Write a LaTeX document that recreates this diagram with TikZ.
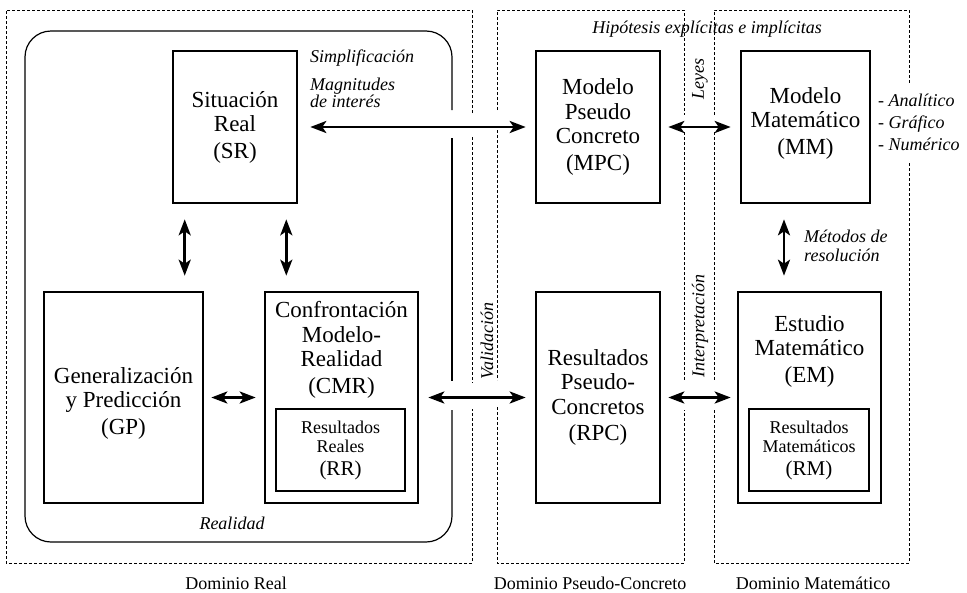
\documentclass[tikz,border=0pt]{standalone}
\usepackage{fontspec}
\setmainfont{Liberation Serif}
\usetikzlibrary{arrows.meta,calc}
\begin{document}
\begin{tikzpicture}[x=1pt,y=-1pt,
  box/.style={draw,line width=2.6pt,inner sep=0pt,align=center,font=\fontsize{23}{24.5}\selectfont},
  sbox/.style={draw,line width=2.6pt,inner sep=0pt,align=center,font=\fontsize{18}{19}\selectfont},
  txt/.style={inner sep=0pt,align=center,font=\fontsize{23}{24.5}\selectfont},
  lbl/.style={inner sep=0pt,font=\fontsize{18}{18}\selectfont\itshape},
  dom/.style={inner sep=0pt,font=\fontsize{18}{18}\selectfont},
  dsh/.style={line width=0.9pt,dash pattern=on 3pt off 2pt},
  arr/.style={line width=2.8pt,{Stealth[length=16pt,width=12pt,inset=4pt]}-{Stealth[length=16pt,width=12pt,inset=4pt]}},
]
\useasboundingbox (0,0) rectangle (967,592);

% dashed domain frames
\draw[dsh] (472,113) -- (472,10) -- (6,10) -- (6,563) -- (472,563) -- (472,409);
\draw[dsh] (472,137) -- (472,383);
\draw[dsh] (497,110) -- (497,10) -- (684,10) -- (684,115);
\draw[dsh] (497,130) -- (497,380);
\draw[dsh] (497,407) -- (497,563) -- (684,563) -- (684,410);
\draw[dsh] (684,132) -- (684,380);
\draw[dsh] (714,115) -- (714,10) -- (909,10) -- (909,83);
\draw[dsh] (714,132) -- (714,380);
\draw[dsh] (714,410) -- (714,563) -- (909,563) -- (909,163);

% Realidad rounded frame
\draw[line width=1.2pt,rounded corners=26pt] (452,110) -- (452,31) -- (25,31) -- (25,542) -- (452,542) -- (452,410);
\draw[line width=1.2pt] (452,138) -- (452,381);

% boxes
\node[box,minimum width=124pt,minimum height=152pt] (SR) at (235,127) {Situación\\Real\\[2pt](SR)};
\node[box,minimum width=124pt,minimum height=152pt] (MPC) at (598,127) {Modelo\\Pseudo\\Concreto\\[2pt](MPC)};
\node[box,minimum width=129pt,minimum height=152pt] (MM) at (805.5,127) {};
\node[txt] (MMt) at (805.5,123) {Modelo\\Matemático\\[2pt](MM)};
\node[box,minimum width=159pt,minimum height=211pt] (GP) at (123.5,397.5) {};
\node[txt] (GPt) at (123.5,403) {Generalización\\y Predicción\\[2pt](GP)};
\node[box,minimum width=153pt,minimum height=211pt] (CMR) at (341.5,397.5) {};
\node[txt] (CMRt) at (341.5,350) {Confrontación\\Modelo-\\Realidad\\[2pt](CMR)};
\node[sbox,minimum width=129pt,minimum height=82pt] (RR) at (340.5,450) {Resultados\\Reales\\[4pt]{\fontsize{21}{21}\selectfont(RR)}};
\node[box,minimum width=124pt,minimum height=211pt] (RPC) at (598,397.5) {Resultados\\Pseudo-\\Concretos\\[2pt](RPC)};
\node[box,minimum width=143pt,minimum height=211pt] (EM) at (809.5,397.5) {};
\node[txt] (EMt) at (809.5,351) {Estudio\\Matemático\\[2pt](EM)};
\node[sbox,minimum width=120pt,minimum height=82pt] (RM) at (809,450) {Resultados\\Matemáticos\\[4pt]{\fontsize{21}{21}\selectfont(RM)}};

% connectors
\draw[arr,shorten <=12pt,shorten >=9pt] (SR) -- (MPC);
\draw[arr,shorten <=7pt,shorten >=9pt] (MPC) -- (MM);
\draw[arr,shorten <=15pt,shorten >=15pt] ([xshift=13pt]SR.south west) -- ([xshift=13pt]SR.south west |- GP.north);
\draw[arr,shorten <=15pt,shorten >=15pt] ([xshift=-12pt]SR.south east) -- ([xshift=-12pt]SR.south east |- CMR.north);
\draw[arr,shorten <=7pt,shorten >=8pt] (GP) -- (CMR);
\draw[arr,shorten <=9pt,shorten >=9pt] (CMR) -- (RPC);
\draw[arr,shorten <=7pt,shorten >=6pt] (RPC) -- (EM);
\draw[arr,shorten <=15pt,shorten >=15pt] ([xshift=-21.5pt]MM.south) -- ([xshift=-21.5pt]MM.south |- EM.north);

% labels
\node[lbl,anchor=west] (simp) at (310,58) {Simplificación};
\node[lbl,anchor=west,align=left,font=\fontsize{18}{17.5}\selectfont\itshape] (magn) at (310,93) {Magnitudes\\de interés};
\node[lbl] (hip) at (707,29) {Hipótesis explícitas e implícitas};
\node[lbl,rotate=90] (leyes) at (700,79) {Leyes};
\node[lbl,anchor=west,align=left,font=\fontsize{18}{22}\selectfont\itshape] (tipos) at (878,122) {- Analítico\\- Gráfico\\- Numérico};
\node[lbl,anchor=west,align=left,font=\fontsize{18}{19}\selectfont\itshape] (metodos) at (804,246) {Métodos de\\resolución};
\node[lbl,rotate=90,anchor=west] (valid) at (487,380) {Validación};
\node[lbl,rotate=90,anchor=west] (interp) at (700,378) {Interpretación};
\node[lbl] (realidad) at (232,523) {Realidad};
\node[dom] (dreal) at (236,583) {Dominio Real};
\node[dom] (dpc) at (590,583) {Dominio Pseudo-Concreto};
\node[dom] (dmat) at (813,583) {Dominio Matemático};
\end{tikzpicture}
\end{document}
